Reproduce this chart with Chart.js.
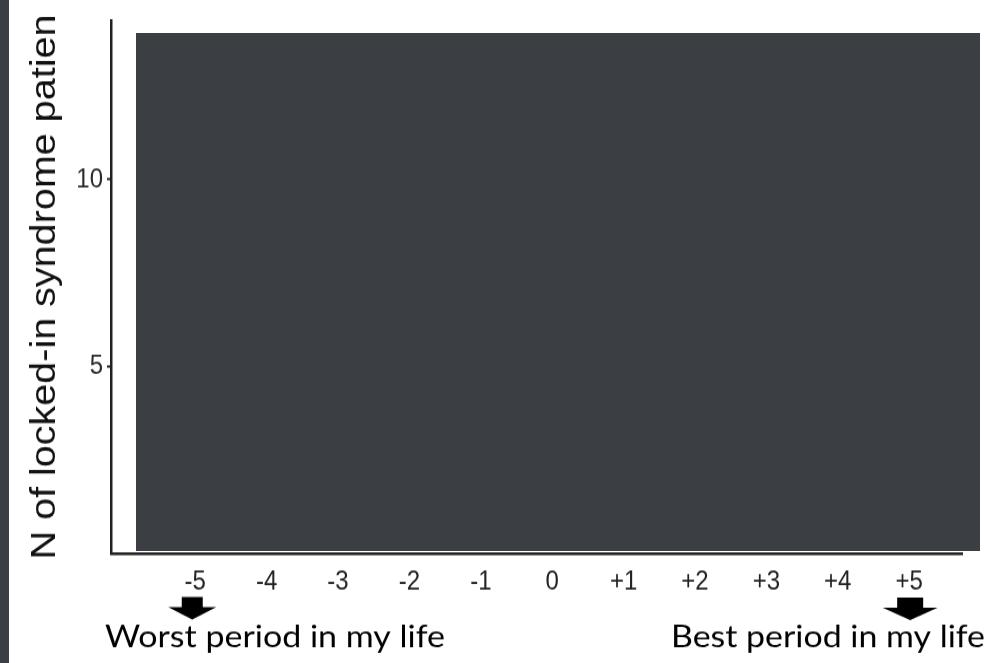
<!DOCTYPE html>
<html>
<head>
<meta charset="utf-8">
<script src="https://cdn.jsdelivr.net/npm/chart.js@4.4.1/dist/chart.umd.min.js"></script>
<style>
  html, body { margin: 0; padding: 0; background: #fff; overflow: hidden; }
  #wrap { position: relative; width: 986px; height: 663px; overflow: hidden; }
  /* the figure is drawn a little short and stretched to full height */
  #chart { position: absolute; left: 0; top: 0; transform: scaleY(1.1295); transform-origin: 0 0; }
  .panel { position: absolute; background: #3b3f43; }
</style>
</head>
<body>
<div id="wrap">
  <canvas id="chart" width="986" height="587"></canvas>
  <div class="panel" style="left:136px;top:33px;width:844px;height:518px"></div>
  <div class="panel" style="left:0;top:0;width:9px;height:663px"></div>
</div>
<script>
const periodValues = [-5, -4, -3, -2, -1, 0, 1, 2, 3, 4, 5];
const periodLabels = ['-5', '-4', '-3', '-2', '-1', '0', '+1', '+2', '+3', '+4', '+5'];
const countTicks = [5, 10];
const yTitle = 'N of locked-in syndrome patien';
const worstLabel = 'Worst period in my life';
const bestLabel = 'Best period in my life';

const INK = '#222';

function drawArrow(ctx, cx, top, shaftW, headW) {
  const shaftH = 9, headH = 11;
  ctx.beginPath();
  ctx.moveTo(cx - shaftW / 2, top);
  ctx.lineTo(cx + shaftW / 2, top);
  ctx.lineTo(cx + shaftW / 2, top + shaftH);
  ctx.lineTo(cx + headW / 2, top + shaftH);
  ctx.lineTo(cx, top + shaftH + headH);
  ctx.lineTo(cx - headW / 2, top + shaftH);
  ctx.lineTo(cx - shaftW / 2, top + shaftH);
  ctx.closePath();
  ctx.fill();
}

// caption squeezed/stretched to a fixed width
function drawCaption(ctx, text, left, baseline, width) {
  ctx.save();
  ctx.font = '26px Lato, "Open Sans", sans-serif';
  const w = ctx.measureText(text).width;
  ctx.translate(left, baseline);
  ctx.scale(width / w, 1);
  ctx.textBaseline = 'alphabetic';
  ctx.textAlign = 'left';
  ctx.fillText(text, 0, 0);
  ctx.restore();
}

// arrows under the two ends of the scale and their captions
const endNotes = {
  id: 'endNotes',
  afterDraw(chart) {
    const ctx = chart.ctx;
    const xs = chart.scales.x;
    ctx.save();
    ctx.fillStyle = '#000';
    drawArrow(ctx, xs.getPixelForValue(periodValues[0]) - 3, 528.5, 21, 48);
    drawArrow(ctx, xs.getPixelForValue(periodValues[periodValues.length - 1]) + 1, 529, 26, 55);
    drawCaption(ctx, worstLabel, 105, 572.8, 340);
    drawCaption(ctx, bestLabel, 671, 572.8, 314);
    ctx.restore();
  }
};

new Chart(document.getElementById('chart'), {
  type: 'bar',
  data: { datasets: [] },
  options: {
    responsive: false,
    devicePixelRatio: 1,
    animation: false,
    layout: { padding: { top: 8, right: 24, left: 0, bottom: 0 } },
    plugins: { legend: { display: false }, tooltip: { enabled: false } },
    scales: {
      x: {
        type: 'linear',
        offset: false,
        min: -6.18,
        max: 5.74,
        afterBuildTicks: s => { s.ticks = periodValues.map(v => ({ value: v })); },
        afterFit: s => { s.height = 97.2; },
        grid: { display: false, drawTicks: false, offset: false },
        border: { color: INK, width: 2.5 },
        ticks: {
          padding: 11,
          color: INK,
          maxRotation: 0,
          autoSkip: false,
          font: { family: 'Liberation Sans', size: 24 },
          callback: v => periodLabels[periodValues.indexOf(v)]
        }
      },
      y: {
        min: 0,
        max: 14.25,
        afterBuildTicks: s => { s.ticks = countTicks.map(v => ({ value: v })); },
        afterFit: s => { s.width = 111; },
        grid: { drawOnChartArea: false, tickLength: 4, tickColor: INK, tickWidth: 2 },
        border: { color: INK, width: 2.5 },
        ticks: {
          padding: 4,
          color: '#2b2b2b',
          font: { family: 'Liberation Sans', size: 24 }
        },
        title: {
          display: true,
          text: yTitle,
          color: '#111',
          font: { family: 'Liberation Sans', size: 35 },
          padding: { top: 24, bottom: 0 }
        }
      }
    }
  },
  plugins: [endNotes]
});
</script>
</body>
</html>
